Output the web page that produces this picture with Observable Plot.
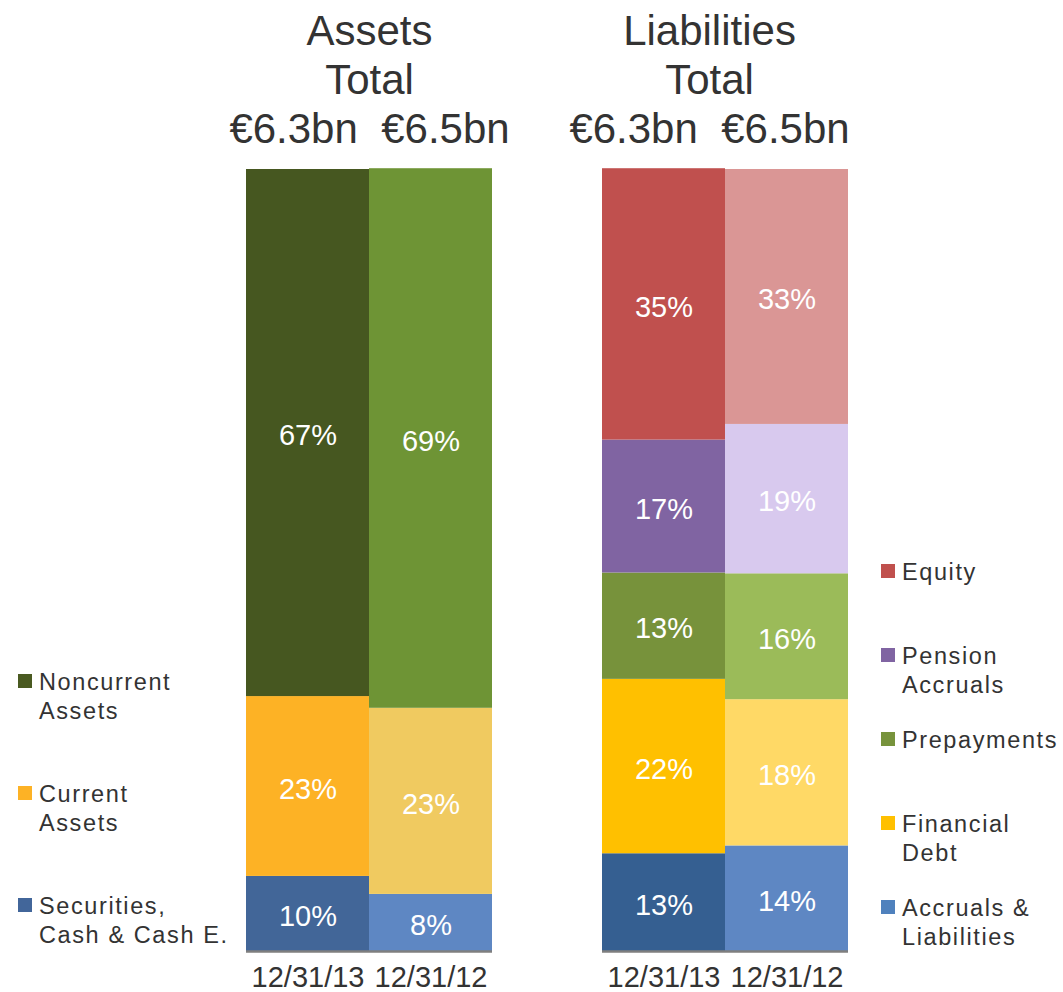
<!DOCTYPE html>
<html>
<head>
<meta charset="utf-8">
<script src="https://cdn.jsdelivr.net/npm/d3@7"></script>
<script src="https://cdn.jsdelivr.net/npm/@observablehq/plot@0.6"></script>
<style>
  html, body { margin: 0; padding: 0; background: #fff; }
  #wrap { position: relative; width: 1063px; height: 992px; font-family: "Liberation Sans", Arial, sans-serif; }
  #wrap svg { position: absolute; left: 0; top: 0; }
  .legend { position: absolute; color: #333; font-size: 23.5px; letter-spacing: 1.6px; line-height: 29px; }
  .legend .item { display: flex; align-items: flex-start; }
  .legend .sw { width: 14px; height: 14px; margin-top: 6px; margin-right: 7px; flex: none; }
  .legend .lbl { white-space: pre-line; }
</style>
</head>
<body>
<div id="wrap"></div>
<script>
// ---- data ----
const panels = ["Assets", "Liabilities"];
const dates = ["12/31/13", "12/31/12"];

// stacked bottom -> top
const assetCategories = ["Securities,\nCash & Cash E.", "Current\nAssets", "Noncurrent\nAssets"];
const assets2013 = [9.6, 23.0, 67.4];
const assets2012 = [7.3, 23.8, 69.0];
const assetLabels2013 = ["10%", "23%", "67%"];
const assetLabels2012 = ["8%", "23%", "69%"];
const assetTotals = ["€6.3bn", "€6.5bn"];

const liabilityCategories = ["Accruals &\nLiabilities", "Financial\nDebt", "Prepayments", "Pension\nAccruals", "Equity"];
const liabilities2013 = [12.5, 22.3, 13.6, 17.0, 34.7];
const liabilities2012 = [13.5, 18.7, 16.1, 19.1, 32.6];
const liabilityLabels2013 = ["13%", "22%", "13%", "17%", "35%"];
const liabilityLabels2012 = ["14%", "18%", "16%", "19%", "33%"];
const liabilityTotals = ["€6.3bn", "€6.5bn"];

// palettes (style), same order as categories
const assetColors2013 = ["#426698", "#FDB225", "#465720"];
const assetColors2012 = ["#5E87C3", "#F0CA60", "#6E9435"];
const assetLegendColors = ["#42669A", "#FDB225", "#4A5A21"];
const liabilityColors2013 = ["#355F91", "#FFC000", "#77923B", "#8064A2", "#C0504E"];
const liabilityColors2012 = ["#5E87C3", "#FFD966", "#9BBB59", "#D8C9EE", "#DA9695"];
const liabilityLegendColors = ["#4F81BD", "#FFC000", "#77933C", "#8064A2", "#C0504D"];

// ---- build table ----
const rows = [];
const keys = [], colors = [];
function add(panel, cats, vals13, vals12, lab13, lab12, col13, col12) {
  [[dates[0], vals13, lab13, col13], [dates[1], vals12, lab12, col12]].forEach(([date, vals, labs, cols]) => {
    cats.forEach((c, i) => {
      const key = panel + "|" + c + "|" + date;
      rows.push({panel, date, category: c, value: vals[i], label: labs[i], key});
      keys.push(key); colors.push(cols[i]);
    });
  });
}
add("Assets", assetCategories, assets2013, assets2012, assetLabels2013, assetLabels2012, assetColors2013, assetColors2012);
add("Liabilities", liabilityCategories, liabilities2013, liabilities2012, liabilityLabels2013, liabilityLabels2012, liabilityColors2013, liabilityColors2012);

const titles = [
  {panel: "Assets", text: "Assets\nTotal\n" + assetTotals.join("  ")},
  {panel: "Liabilities", text: "Liabilities\nTotal\n" + liabilityTotals.join("  ")}
];
const ticks = panels.flatMap(p => dates.map(d => ({panel: p, date: d})));
const titleStyle = {fx: "panel", text: "text", frameAnchor: "top", lineAnchor: "middle", dy: -91,
  fontSize: 42, lineHeight: 1.17, fill: "#333"};

const chart = Plot.plot({
  width: 1063,
  height: 992,
  marginLeft: 245,
  marginRight: 215,
  marginTop: 169,
  marginBottom: 41,
  style: {fontFamily: "'Liberation Sans', Arial, sans-serif", background: "transparent"},
  fx: {domain: panels, axis: null, paddingInner: 0.309, paddingOuter: 0},
  x: {domain: dates, padding: 0, axis: null},
  y: {domain: [0, 100], axis: null},
  color: {type: "ordinal", domain: keys, range: colors},
  marks: [
    Plot.barY(rows, Plot.stackY({fx: "panel", x: "date", y: "value", z: "category", fill: "key", order: null})),
    Plot.text(rows, Plot.stackY({fx: "panel", x: "date", y: "value", z: "category", text: "label", order: null,
      fill: "white", fontSize: 29, dy: 3})),
    Plot.ruleY([0], {stroke: "#7F7F7F", strokeWidth: 2.5}),
    Plot.text(ticks, {fx: "panel", x: "date", text: "date", frameAnchor: "bottom", dy: 35, fontSize: 29, fill: "#333"}),
    Plot.text(titles.slice(0, 1), titleStyle),
    Plot.text(titles.slice(1), {...titleStyle, dx: -16})
  ]
});
const wrap = document.getElementById("wrap");
wrap.appendChild(chart);

function legend(cats, cols, left, top, slot) {
  const div = document.createElement("div");
  div.className = "legend";
  div.style.left = left + "px";
  div.style.top = top + "px";
  cats.forEach((c, i) => {
    const it = document.createElement("div");
    it.className = "item";
    it.style.height = slot + "px";
    const sw = document.createElement("div");
    sw.className = "sw"; sw.style.background = cols[i];
    const lb = document.createElement("div");
    lb.className = "lbl"; lb.textContent = c;
    it.appendChild(sw); it.appendChild(lb);
    div.appendChild(it);
  });
  wrap.appendChild(div);
}
// legends list top -> bottom
legend(assetCategories.slice().reverse(), assetLegendColors.slice().reverse(), 18, 668, 112);
legend(liabilityCategories.slice().reverse(), liabilityLegendColors.slice().reverse(), 881, 558, 84);
</script>
</body>
</html>
